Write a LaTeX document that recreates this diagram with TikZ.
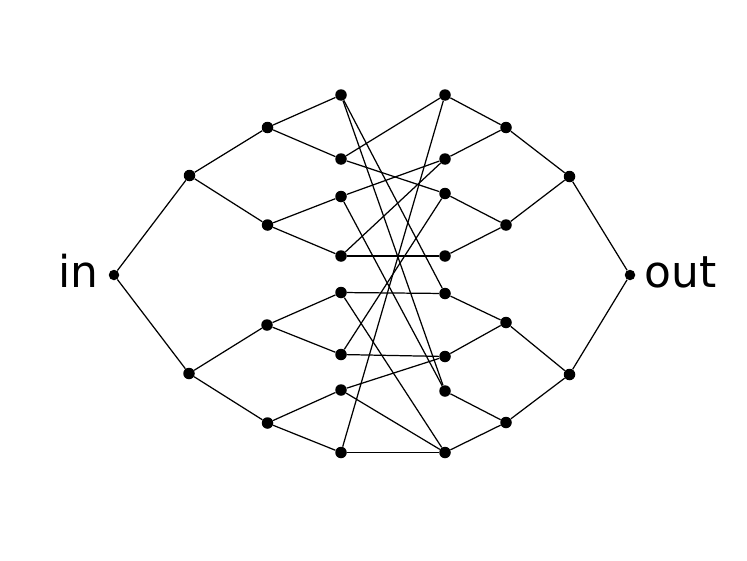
\documentclass[tikz,border=0pt]{standalone}
\usepackage{fontspec}
\setmainfont{DejaVu Sans}
\usepackage{tikz}

\begin{document}
\begin{tikzpicture}[x=0.02cm, y=-0.02cm,
  dot/.style={circle, fill=black, inner sep=0pt, minimum size=0.23cm},
  edge/.style={line width=0.7pt},
  lbl/.style={font=\fontsize{25}{30}\selectfont, inner sep=0pt}]
\useasboundingbox[fill=white] (0,0) rectangle (747,561);
% Nodes
\node[dot, minimum size=0.21cm] (in) at (114,275) {};
\node[dot] (la1) at (189.5,175.5) {};
\node[dot] (la2) at (189,373.5) {};
\node[dot] (lb1) at (267.5,127.5) {};
\node[dot] (lb2) at (267.5,225) {};
\node[dot] (lb3) at (267,325) {};
\node[dot] (lb4) at (267.5,423) {};
\node[dot] (lc1) at (341,95) {};
\node[dot] (lc2) at (341,159) {};
\node[dot] (lc3) at (341,196.5) {};
\node[dot] (lc4) at (341,256) {};
\node[dot] (lc5) at (341,292.5) {};
\node[dot] (lc6) at (341,354.5) {};
\node[dot] (lc7) at (341,390) {};
\node[dot] (lc8) at (341,452.5) {};
\node[dot] (rc1) at (445,95) {};
\node[dot] (rc2) at (445,159) {};
\node[dot] (rc3) at (445,193.5) {};
\node[dot] (rc4) at (445,256) {};
\node[dot] (rc5) at (445,293.5) {};
\node[dot] (rc6) at (445,356.5) {};
\node[dot] (rc7) at (445,391) {};
\node[dot] (rc8) at (445,452.5) {};
\node[dot] (rb1) at (506,127.5) {};
\node[dot] (rb2) at (506,225) {};
\node[dot] (rb3) at (506,322.5) {};
\node[dot] (rb4) at (506,422.5) {};
\node[dot] (ra1) at (569.5,176.5) {};
\node[dot] (ra2) at (569.5,374.5) {};
\node[dot, minimum size=0.21cm] (out) at (630,275) {};

% Labels
\node[lbl, anchor=base east] (inlbl) at (99,287.5) {in};
\node[lbl, anchor=base west] (outlbl) at (644,287.5) {out};

% Left tree
\draw[edge] (in) -- (la1);
\draw[edge] (in) -- (la2);
\draw[edge] (la1) -- (lb1);
\draw[edge] (la1) -- (lb2);
\draw[edge] (la2) -- (lb3);
\draw[edge] (la2) -- (lb4);
\draw[edge] (lb1) -- (lc1);
\draw[edge] (lb1) -- (lc2);
\draw[edge] (lb2) -- (lc3);
\draw[edge] (lb2) -- (lc4);
\draw[edge] (lb3) -- (lc5);
\draw[edge] (lb3) -- (lc6);
\draw[edge] (lb4) -- (lc7);
\draw[edge] (lb4) -- (lc8);

% Right tree
\draw[edge] (out) -- (ra1);
\draw[edge] (out) -- (ra2);
\draw[edge] (ra1) -- (rb1);
\draw[edge] (ra1) -- (rb2);
\draw[edge] (ra2) -- (rb3);
\draw[edge] (ra2) -- (rb4);
\draw[edge] (rb1) -- (rc1);
\draw[edge] (rb1) -- (rc2);
\draw[edge] (rb2) -- (rc3);
\draw[edge] (rb2) -- (rc4);
\draw[edge] (rb3) -- (rc5);
\draw[edge] (rb3) -- (rc6);
\draw[edge] (rb4) -- (rc7);
\draw[edge] (rb4) -- (rc8);

% Middle links
\draw[edge] (lc1) -- (rc5);
\draw[edge] (lc1) -- (rc7);
\draw[edge] (lc2) -- (rc1);
\draw[edge] (lc2) -- (rc3);
\draw[edge] (lc3) -- (rc2);
\draw[edge] (lc3) -- (rc7);
\draw[edge] (lc4) -- (rc2);
\draw[edge] (lc4) -- (rc4);
\draw[edge] (lc5) -- (rc5);
\draw[edge] (lc5) -- (rc8);
\draw[edge] (lc6) -- (rc3);
\draw[edge] (lc6) -- (rc6);
\draw[edge] (lc7) -- (rc6);
\draw[edge] (lc7) -- (rc8);
\draw[edge] (lc8) -- (rc1);
\draw[edge] (lc8) -- (rc8);

\end{tikzpicture}
\end{document}
